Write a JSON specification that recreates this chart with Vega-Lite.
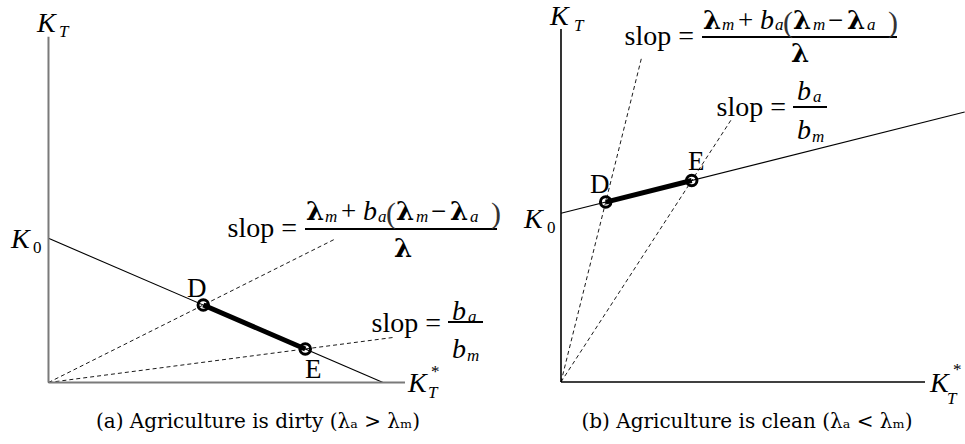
{
  "$schema": "https://vega.github.io/schema/vega-lite/v6.json",
  "padding": 0,
  "spacing": 0,
  "bounds": "flush",
  "background": "white",
  "config": {
    "view": {"stroke": null},
    "text": {"font": "Liberation Serif", "color": "black", "baseline": "alphabetic"}
  },
  "datasets": {
    "a_axes": [{"x": 0, "y": 0, "x2": 0, "y2": 10}, {"x": 0, "y": 0, "x2": 10, "y2": 0}],
    "a_frontier": [{"x": 0, "y": 4.17, "x2": 9.383, "y2": 0}],
    "a_rays": [{"x": 0, "y": 0, "x2": 8.06, "y2": 4.16}, {"x": 0, "y": 0, "x2": 9.72, "y2": 1.31}],
    "a_de": [{"x": 4.342, "y": 2.241, "x2": 7.203, "y2": 0.969}],
    "a_points": [{"x": 4.342, "y": 2.241, "point": "D"}, {"x": 7.203, "y": 0.969, "point": "E"}],
    "a_bars": [{"x": 7.195, "x2": 12.581, "y": 4.439}, {"x": 11.206, "x2": 12.188, "y": 1.75}],
    "a_itL": [
      {"x": -0.323, "y": 10.136, "text": "K"},
      {"x": -1.052, "y": 3.889, "text": "K"},
      {"x": 10.084, "y": -0.275, "text": "K"},
      {"x": 8.822, "y": 4.699, "text": "b"},
      {"x": 11.318, "y": 1.807, "text": "b"},
      {"x": 11.318, "y": 0.709, "text": "b"}
    ],
    "a_itS": [
      {"x": 0.295, "y": 9.991, "text": "T"},
      {"x": 10.645, "y": -0.448, "text": "T"},
      {"x": 7.756, "y": 4.641, "text": "m"},
      {"x": 9.243, "y": 4.641, "text": "a"},
      {"x": 10.309, "y": 4.641, "text": "m"},
      {"x": 11.823, "y": 4.641, "text": "a"},
      {"x": 11.767, "y": 1.75, "text": "a"},
      {"x": 11.739, "y": 0.622, "text": "m"}
    ],
    "a_rmL": [
      {"x": 3.885, "y": 2.472, "text": "D"},
      {"x": 7.195, "y": 0.13, "text": "E"},
      {"x": 8.205, "y": 4.699, "text": "+"},
      {"x": 10.73, "y": 4.699, "text": "−"}
    ],
    "a_paren": [
      {"x": 9.466, "y": 4.61, "text": "("},
      {"x": 12.412, "y": 4.61, "text": ")"}
    ],
    "a_rmS": [
      {"x": -0.435, "y": 3.745, "text": "0"},
      {"x": 10.729, "y": 0.159, "text": "*"}
    ],
    "a_slop": [
      {"x": 6.971, "y": 4.208, "text": "slop ="},
      {"x": 11.01, "y": 1.475, "text": "slop ="}
    ],
    "a_lam": [
      {"x": 7.223, "y": 4.699, "text": "λ"},
      {"x": 9.747, "y": 4.699, "text": "λ"},
      {"x": 11.262, "y": 4.699, "text": "λ"}
    ],
    "a_lamDen": [{"x": 9.944, "y": 3.629, "text": "λ"}],
    "a_caption": [{"x": 5.877, "y": -1.316, "text": "(a) Agriculture is dirty (λₐ > λₘ)"}],

    "b_axes": [{"x": 0, "y": 0, "x2": 0, "y2": 10}, {"x": 0, "y": 0, "x2": 10, "y2": 0}],
    "b_frontier": [{"x": 0, "y": 4.779, "x2": 11.09, "y2": 7.647}],
    "b_rays": [{"x": 0, "y": 0, "x2": 2.225, "y2": 9.236}, {"x": 0, "y": 0, "x2": 4.67, "y2": 7.42}],
    "b_de": [{"x": 1.228, "y": 5.097, "x2": 3.591, "y2": 5.708}],
    "b_points": [{"x": 1.228, "y": 5.097, "point": "D"}, {"x": 3.591, "y": 5.708, "point": "E"}],
    "b_bars": [{"x": 3.874, "x2": 9.231, "y": 9.773}, {"x": 6.374, "x2": 7.308, "y": 7.79}],
    "b_itL": [
      {"x": -0.302, "y": 10.113, "text": "K"},
      {"x": -1.016, "y": 4.363, "text": "K"},
      {"x": 10.137, "y": -0.283, "text": "K"},
      {"x": 5.467, "y": 10.0, "text": "b"},
      {"x": 6.484, "y": 7.989, "text": "b"},
      {"x": 6.484, "y": 6.884, "text": "b"}
    ],
    "b_itS": [
      {"x": 0.357, "y": 9.943, "text": "T"},
      {"x": 10.604, "y": -0.623, "text": "T"},
      {"x": 4.423, "y": 9.972, "text": "m"},
      {"x": 5.879, "y": 9.972, "text": "a"},
      {"x": 6.923, "y": 9.972, "text": "m"},
      {"x": 8.407, "y": 9.972, "text": "a"},
      {"x": 6.923, "y": 7.932, "text": "a"},
      {"x": 6.896, "y": 6.799, "text": "m"}
    ],
    "b_rmL": [
      {"x": 0.797, "y": 5.354, "text": "D"},
      {"x": 3.489, "y": 6.006, "text": "E"},
      {"x": 4.863, "y": 10.0, "text": "+"},
      {"x": 7.335, "y": 10.0, "text": "−"}
    ],
    "b_paren": [
      {"x": 6.099, "y": 9.915, "text": "("},
      {"x": 8.984, "y": 9.915, "text": ")"}
    ],
    "b_rmS": [
      {"x": -0.385, "y": 4.221, "text": "0"},
      {"x": 10.769, "y": 0.198, "text": "*"}
    ],
    "b_slop": [
      {"x": 3.654, "y": 9.547, "text": "slop ="},
      {"x": 6.181, "y": 7.535, "text": "slop ="}
    ],
    "b_lam": [
      {"x": 3.901, "y": 10.0, "text": "λ"},
      {"x": 6.374, "y": 10.0, "text": "λ"},
      {"x": 7.857, "y": 10.0, "text": "λ"}
    ],
    "b_lamDen": [{"x": 6.566, "y": 9.065, "text": "λ"}],
    "b_caption": [{"x": 5.11, "y": -1.303, "text": "(b) Agriculture is clean (λₐ < λₘ)"}]
  },
  "hconcat": [
    {
      "width": 510,
      "height": 444,
      "encoding": {
        "x": {"field": "x", "type": "quantitative", "scale": {"domain": [-1.36, 12.945], "nice": false, "zero": false}, "axis": null},
        "y": {"field": "y", "type": "quantitative", "scale": {"domain": [-1.778, 11.061], "nice": false, "zero": false}, "axis": null}
      },
      "layer": [
        {"data": {"name": "a_rays"}, "mark": {"type": "rule", "strokeDash": [4, 3], "strokeWidth": 0.9, "color": "black"}, "encoding": {"x2": {"field": "x2"}, "y2": {"field": "y2"}}},
        {"data": {"name": "a_frontier"}, "mark": {"type": "rule", "strokeWidth": 1.1, "color": "black"}, "encoding": {"x2": {"field": "x2"}, "y2": {"field": "y2"}}},
        {"data": {"name": "a_axes"}, "mark": {"type": "rule", "strokeWidth": 2, "color": "#7a7a7a"}, "encoding": {"x2": {"field": "x2"}, "y2": {"field": "y2"}}},
        {"data": {"name": "a_de"}, "mark": {"type": "rule", "strokeWidth": 5, "color": "black"}, "encoding": {"x2": {"field": "x2"}, "y2": {"field": "y2"}}},
        {"data": {"name": "a_points"}, "mark": {"type": "point", "shape": "circle", "filled": false, "size": 110, "strokeWidth": 3, "color": "black", "opacity": 1}},
        {"data": {"name": "a_bars"}, "mark": {"type": "rule", "strokeWidth": 2, "color": "black"}, "encoding": {"x2": {"field": "x2"}}},
        {"data": {"name": "a_itL"}, "mark": {"type": "text", "align": "left", "fontSize": 28, "fontStyle": "italic"}, "encoding": {"text": {"field": "text"}}},
        {"data": {"name": "a_itS"}, "mark": {"type": "text", "align": "left", "fontSize": 17, "fontStyle": "italic"}, "encoding": {"text": {"field": "text"}}},
        {"data": {"name": "a_rmL"}, "mark": {"type": "text", "align": "left", "fontSize": 27}, "encoding": {"text": {"field": "text"}}},
        {"data": {"name": "a_paren"}, "mark": {"type": "text", "align": "left", "fontSize": 30, "color": "#333333"}, "encoding": {"text": {"field": "text"}}},
        {"data": {"name": "a_rmS"}, "mark": {"type": "text", "align": "left", "fontSize": 17}, "encoding": {"text": {"field": "text"}}},
        {"data": {"name": "a_slop"}, "mark": {"type": "text", "align": "right", "fontSize": 28}, "encoding": {"text": {"field": "text"}}},
        {"data": {"name": "a_lam"}, "mark": {"type": "text", "align": "left", "fontSize": 26, "font": "DejaVu Serif", "fontWeight": "bold"}, "encoding": {"text": {"field": "text"}}},
        {"data": {"name": "a_lamDen"}, "mark": {"type": "text", "align": "center", "fontSize": 26, "font": "DejaVu Serif", "fontWeight": "bold"}, "encoding": {"text": {"field": "text"}}},
        {"data": {"name": "a_caption"}, "mark": {"type": "text", "align": "center", "fontSize": 20, "font": "DejaVu Serif"}, "encoding": {"text": {"field": "text"}}}
      ]
    },
    {
      "width": 455,
      "height": 444,
      "encoding": {
        "x": {"field": "x", "type": "quantitative", "scale": {"domain": [-1.401, 11.099], "nice": false, "zero": false}, "axis": null},
        "y": {"field": "y", "type": "quantitative", "scale": {"domain": [-1.756, 10.822], "nice": false, "zero": false}, "axis": null}
      },
      "layer": [
        {"data": {"name": "b_rays"}, "mark": {"type": "rule", "strokeDash": [4, 3], "strokeWidth": 0.9, "color": "black"}, "encoding": {"x2": {"field": "x2"}, "y2": {"field": "y2"}}},
        {"data": {"name": "b_frontier"}, "mark": {"type": "rule", "strokeWidth": 1.1, "color": "black"}, "encoding": {"x2": {"field": "x2"}, "y2": {"field": "y2"}}},
        {"data": {"name": "b_axes"}, "mark": {"type": "rule", "strokeWidth": 1.6, "color": "black"}, "encoding": {"x2": {"field": "x2"}, "y2": {"field": "y2"}}},
        {"data": {"name": "b_de"}, "mark": {"type": "rule", "strokeWidth": 5, "color": "black"}, "encoding": {"x2": {"field": "x2"}, "y2": {"field": "y2"}}},
        {"data": {"name": "b_points"}, "mark": {"type": "point", "shape": "circle", "filled": false, "size": 110, "strokeWidth": 3, "color": "black", "opacity": 1}},
        {"data": {"name": "b_bars"}, "mark": {"type": "rule", "strokeWidth": 2, "color": "black"}, "encoding": {"x2": {"field": "x2"}}},
        {"data": {"name": "b_itL"}, "mark": {"type": "text", "align": "left", "fontSize": 28, "fontStyle": "italic"}, "encoding": {"text": {"field": "text"}}},
        {"data": {"name": "b_itS"}, "mark": {"type": "text", "align": "left", "fontSize": 17, "fontStyle": "italic"}, "encoding": {"text": {"field": "text"}}},
        {"data": {"name": "b_rmL"}, "mark": {"type": "text", "align": "left", "fontSize": 27}, "encoding": {"text": {"field": "text"}}},
        {"data": {"name": "b_paren"}, "mark": {"type": "text", "align": "left", "fontSize": 30, "color": "#333333"}, "encoding": {"text": {"field": "text"}}},
        {"data": {"name": "b_rmS"}, "mark": {"type": "text", "align": "left", "fontSize": 17}, "encoding": {"text": {"field": "text"}}},
        {"data": {"name": "b_slop"}, "mark": {"type": "text", "align": "right", "fontSize": 28}, "encoding": {"text": {"field": "text"}}},
        {"data": {"name": "b_lam"}, "mark": {"type": "text", "align": "left", "fontSize": 26, "font": "DejaVu Serif", "fontWeight": "bold"}, "encoding": {"text": {"field": "text"}}},
        {"data": {"name": "b_lamDen"}, "mark": {"type": "text", "align": "center", "fontSize": 26, "font": "DejaVu Serif", "fontWeight": "bold"}, "encoding": {"text": {"field": "text"}}},
        {"data": {"name": "b_caption"}, "mark": {"type": "text", "align": "center", "fontSize": 20, "font": "DejaVu Serif"}, "encoding": {"text": {"field": "text"}}}
      ]
    }
  ]
}
